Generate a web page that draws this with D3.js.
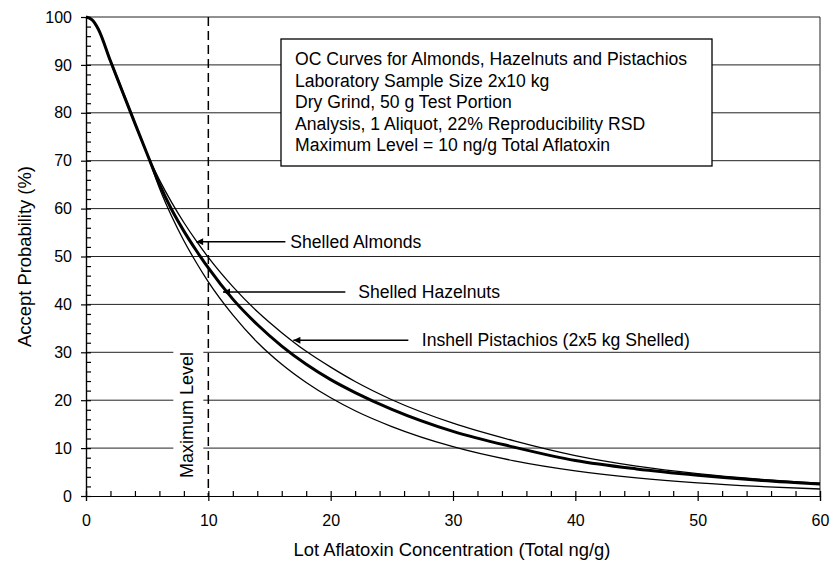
<!DOCTYPE html>
<html>
<head>
<meta charset="utf-8">
<script src="https://cdn.jsdelivr.net/npm/d3@7"></script>
<style>
  body { margin: 0; background: #fff; }
  svg { display: block; font-family: "Liberation Sans", Arial, sans-serif; }
</style>
</head>
<body>
<svg id="chart" width="832" height="565"></svg>
<script>
// Lot concentration (ng/g) and accept probability (%)
var conc       = [0, 0.5, 1, 2, 3, 4, 5, 6, 7, 8, 9, 10, 12, 14, 16, 18, 20, 22, 25, 30, 35, 40, 45, 50, 55, 60];
var almonds    = [100, 99.4, 97.4, 91.0, 84.6, 78.0, 71.4, 64.3, 58.4, 53.3, 48.8, 44.7, 37.8, 32.1, 27.5, 23.7, 20.5, 17.8, 14.5, 10.3, 7.35, 5.26, 3.78, 2.73, 1.99, 1.46];
var hazelnuts  = [100, 99.4, 97.5, 90.8, 84.3, 77.8, 71.4, 65.1, 59.8, 55.3, 51.3, 47.6, 41.1, 35.8, 31.3, 27.5, 24.3, 21.6, 18.1, 13.5, 10.2, 7.4, 5.65, 4.35, 3.3, 2.5];
var pistachios = [100, 99.4, 97.5, 90.6, 84.0, 77.6, 71.4, 66.0, 61.3, 57.1, 53.3, 49.8, 43.7, 38.5, 34.1, 30.2, 26.9, 23.9, 20.1, 15.2, 11.5, 8.43, 6.24, 4.67, 3.53, 2.67];

var xTicks = [0, 10, 20, 30, 40, 50, 60];
var yTicks = [0, 10, 20, 30, 40, 50, 60, 70, 80, 90, 100];
var maxLevel = 10;

// arrow labels: tip and tail in data units
var noteNames = ["Shelled Almonds", "Shelled Hazelnuts", "Inshell Pistachios (2x5 kg Shelled)"];
var noteTipX  = [9.0, 11.2, 16.95];
var noteTailX = [16.3, 21.2, 26.35];
var noteTextX = [16.7, 22.25, 27.45];
var noteY     = [53.1, 42.6, 32.5];

var boxLines = [
  "OC Curves for Almonds, Hazelnuts and Pistachios",
  "Laboratory Sample Size 2x10 kg",
  "Dry Grind, 50 g Test Portion",
  "Analysis, 1 Aliquot, 22% Reproducibility RSD",
  "Maximum Level = 10 ng/g Total Aflatoxin"
];

var svg = d3.select('#chart');
// note: "top" is taken by window.top, so use other names
var plotL = 86, plotR = 820, plotT = 17, plotB = 496;

var x = d3.scaleLinear().domain([0, 60]).range([plotL, plotR]);
var y = d3.scaleLinear().domain([0, 100]).range([plotB, plotT]);

// horizontal grid
svg.append('g').selectAll('line').data(yTicks.slice(1)).enter().append('line')
  .attr('x1', plotL).attr('x2', plotR)
  .attr('y1', function(d) { return y(d); })
  .attr('y2', function(d) { return y(d); })
  .attr('stroke', '#222').attr('stroke-width', 1);

// right border
svg.append('line')
  .attr('x1', plotR).attr('x2', plotR).attr('y1', plotT).attr('y2', plotB)
  .attr('stroke', '#222').attr('stroke-width', 1);

// white patch behind the vertical "Maximum Level" text
svg.append('rect')
  .attr('x', x(maxLevel) - 35).attr('y', 348)
  .attr('width', 30).attr('height', 134)
  .attr('fill', '#fff');

// maximum level line
svg.append('line')
  .attr('x1', x(maxLevel)).attr('x2', x(maxLevel))
  .attr('y1', y(100)).attr('y2', y(0))
  .attr('stroke', '#000').attr('stroke-width', 1.5)
  .attr('stroke-dasharray', '9,5');

svg.append('text')
  .attr('transform', 'translate(' + (x(maxLevel) - 22) + ',415) rotate(-90)')
  .attr('text-anchor', 'middle').attr('dy', '0.35em')
  .style('font-size', '18px')
  .text('Maximum Level');

// curves
var series = [
  { name: 'almonds', values: almonds, width: 1.3 },
  { name: 'pistachios', values: pistachios, width: 1.3 },
  { name: 'hazelnuts', values: hazelnuts, width: 3 }
];
var line = d3.line()
  .x(function(d, i) { return x(conc[i]); })
  .y(function(d) { return y(d); })
  .curve(d3.curveMonotoneX);

svg.append('g').selectAll('path').data(series).enter().append('path')
  .attr('d', function(s) { return line(s.values); })
  .attr('fill', 'none')
  .attr('stroke', '#000')
  .attr('stroke-width', function(s) { return s.width; });

// axes
var yAxis = svg.append('g').attr('transform', 'translate(' + plotL + ',0)')
  .call(d3.axisLeft(y).tickValues(yTicks).tickSize(5).tickPadding(9));
var yMinor = svg.append('g').attr('transform', 'translate(' + plotL + ',0)')
  .call(d3.axisLeft(y).tickValues(d3.range(0, 101, 2)).tickSize(-5).tickFormat(''));
var xAxis = svg.append('g').attr('transform', 'translate(0,' + plotB + ')')
  .call(d3.axisBottom(x).tickValues(xTicks).tickSize(5).tickPadding(14));
var xMinor = svg.append('g').attr('transform', 'translate(0,' + plotB + ')')
  .call(d3.axisBottom(x).tickValues(d3.range(0, 61, 2)).tickSize(-5).tickFormat(''));

[yAxis, yMinor, xAxis, xMinor].forEach(function(g) {
  g.selectAll('path, line').attr('stroke', '#000').attr('stroke-width', 1.2);
  g.selectAll('text').attr('fill', '#000').style('font-size', '16px')
    .style('font-family', '"Liberation Sans", Arial, sans-serif');
});

// axis titles
svg.append('text')
  .attr('transform', 'translate(25,' + ((plotT + plotB) / 2) + ') rotate(-90)')
  .attr('text-anchor', 'middle').attr('dy', '0.35em')
  .style('font-size', '18.4px')
  .text('Accept Probability (%)');

svg.append('text')
  .attr('x', (plotL + plotR) / 2 - 1).attr('y', 556)
  .attr('text-anchor', 'middle')
  .style('font-size', '18.4px')
  .text('Lot Aflatoxin Concentration (Total ng/g)');

// info box
var box = svg.append('g').attr('transform', 'translate(281,39)');
box.append('rect')
  .attr('width', 431).attr('height', 127)
  .attr('fill', '#fff').attr('stroke', '#000').attr('stroke-width', 1.3);
box.selectAll('text').data(boxLines).enter().append('text')
  .attr('x', 14)
  .attr('y', function(d, i) { return 26 + i * 21.5; })
  .style('font-size', '17.6px')
  .text(function(d) { return d; });

// arrow labels
svg.append('defs').append('marker')
  .attr('id', 'head')
  .attr('viewBox', '0 0 10 10')
  .attr('refX', 10).attr('refY', 5)
  .attr('markerWidth', 10).attr('markerHeight', 7)
  .attr('markerUnits', 'userSpaceOnUse')
  .attr('orient', 'auto')
  .append('path').attr('d', 'M0,0 L10,5 L0,10 Z').attr('fill', '#000');

var notes = svg.append('g').selectAll('g').data(noteNames).enter().append('g');
notes.append('line')
  .attr('x1', function(d, i) { return x(noteTailX[i]); })
  .attr('x2', function(d, i) { return x(noteTipX[i]); })
  .attr('y1', function(d, i) { return y(noteY[i]); })
  .attr('y2', function(d, i) { return y(noteY[i]); })
  .attr('stroke', '#000').attr('stroke-width', 1.5)
  .attr('marker-end', 'url(#head)');
notes.append('text')
  .attr('x', function(d, i) { return x(noteTextX[i]); })
  .attr('y', function(d, i) { return y(noteY[i]); })
  .attr('dy', '0.35em')
  .style('font-size', '17.6px')
  .text(function(d) { return d; });
</script>
</body>
</html>
